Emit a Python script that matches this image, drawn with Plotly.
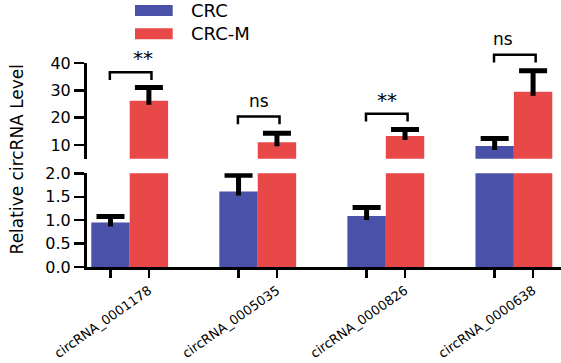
import plotly.graph_objects as go

# ---------------- data ----------------
categories = ["circRNA_0001178", "circRNA_0005035", "circRNA_0000826", "circRNA_0000638"]
series_names = ["CRC", "CRC-M"]
crc_values = [0.95, 1.61, 1.09, 9.6]
crc_errors = [0.13, 0.35, 0.18, 2.8]
crcm_values = [26.2, 11.0, 13.3, 29.5]
crcm_errors = [4.8, 3.3, 2.4, 7.7]
sig_labels = ["**", "ns", "**", "ns"]
bracket_levels = [36.6, 20.4, 21.4, 43.0]   # bracket height (upper-axis units)
lower_ticks = [0.0, 0.5, 1.0, 1.5, 2.0]
upper_ticks = [10, 20, 30, 40]

# ---------------- styling ----------------
BLUE = "#4A51A8"
RED = "#E84848"
FONT = "DejaVu Sans"
W, H = 561, 363
ML, MR, MT, MB = 87, 0, 63, 96
PLOT_H = H - MT - MB

XR = [-0.3334, 3.368]
LOW_RANGE = [0, 2]
UP_RANGE = [5, 40]
LOW_DOM = [0, 0.459]
UP_DOM = [0.531, 1]
OFF = 0.15  # half of bar slot (bargap 0.4 -> bar width 0.3)
STEM_PX = 4  # error stem reaching into the bar

xs = list(range(len(categories)))
units_per_px = {
    "y": (LOW_RANGE[1] - LOW_RANGE[0]) / ((LOW_DOM[1] - LOW_DOM[0]) * PLOT_H),
    "y2": (UP_RANGE[1] - UP_RANGE[0]) / ((UP_DOM[1] - UP_DOM[0]) * PLOT_H),
}

fig = go.Figure()
series = [(crc_values, crc_errors, BLUE, series_names[0], -OFF),
          (crcm_values, crcm_errors, RED, series_names[1], OFF)]
for yax in ["y", "y2"]:
    dip = STEM_PX * units_per_px[yax]
    for vals, errs, col, name, off in series:
        fig.add_trace(go.Bar(
            x=xs, y=vals, name=name, marker=dict(color=col, line=dict(width=0)),
            error_y=dict(type="data", array=errs, arrayminus=[dip] * len(vals), symmetric=False,
                         color="black", thickness=5, width=0),
            yaxis=yax, xaxis="x", showlegend=False))
    for vals, errs, col, name, off in series:
        fig.add_trace(go.Scatter(
            x=[x + off for x in xs], y=[v + e for v, e in zip(vals, errs)],
            mode="markers", marker=dict(symbol="line-ew", size=20, color="black",
                                        line=dict(color="black", width=5)),
            yaxis=yax, xaxis="x", showlegend=False, hoverinfo="skip"))

tickvals, ticktext = [], []
for i, c in enumerate(categories):
    tickvals += [i - OFF, i + OFF]
    ticktext += ["", c]

axis_common = dict(showline=True, linecolor="black", linewidth=3, ticks="outside",
                   tickcolor="black", showgrid=False, zeroline=False, mirror=False,
                   automargin=False,
                   tickfont=dict(family=FONT, size=16, color="black"))

fig.update_layout(
    width=W, height=H, margin=dict(l=ML, r=MR, t=MT, b=MB, autoexpand=False),
    paper_bgcolor="white", plot_bgcolor="white",
    barmode="group", bargap=0.4, bargroupgap=0,
    xaxis=dict(range=XR, anchor="y", showline=True, linecolor="black", linewidth=3,
               ticks="outside", ticklen=8, tickwidth=2.5, tickcolor="black",
               tickvals=tickvals, ticktext=ticktext, tickangle=-35, automargin=False,
               tickfont=dict(family=FONT, size=13, color="black"),
               showgrid=False, zeroline=False),
    yaxis=dict(domain=LOW_DOM, range=LOW_RANGE, anchor="x", tickvals=lower_ticks,
               tickformat=".1f", ticklen=10, tickwidth=2.5, **axis_common),
    yaxis2=dict(domain=UP_DOM, range=UP_RANGE, anchor="x", tickvals=upper_ticks,
                ticklen=10, tickwidth=2.5, **axis_common),
)

# helpers: data -> paper coordinates
def px_x(v):
    return (v - XR[0]) / (XR[1] - XR[0])

def py_up(v):
    return UP_DOM[0] + (v - UP_RANGE[0]) / (UP_RANGE[1] - UP_RANGE[0]) * (UP_DOM[1] - UP_DOM[0])

leg = 2.8  # leg length in upper-axis units
for i, (lab, lvl) in enumerate(zip(sig_labels, bracket_levels)):
    x0, x1 = px_x(i - OFF - 0.005), px_x(i + OFF + 0.02)
    ytop, ybot = py_up(lvl), py_up(lvl - leg)
    fig.add_shape(type="path", xref="paper", yref="paper",
                  path=f"M {x0},{ybot} L {x0},{ytop} L {x1},{ytop} L {x1},{ybot}",
                  line=dict(color="black", width=2.5))
    fig.add_annotation(xref="paper", yref="paper", x=(x0 + x1) / 2, y=ytop,
                       yshift=4 if lab == "ns" else 0,
                       text=lab, showarrow=False, yanchor="bottom",
                       font=dict(family=FONT, size=17 if lab == "ns" else 20, color="black"))

# manual legend
def ppx(p):
    return (p - ML) / (W - ML - MR)

def ppy(p):
    return (H - MB - p) / PLOT_H

legend_rows = [(series_names[0], BLUE, 5, 16), (series_names[1], RED, 28.3, 39.3)]
for name, col, ytop_px, ybot_px in legend_rows:
    fig.add_shape(type="rect", xref="paper", yref="paper",
                  x0=ppx(135), x1=ppx(172.7), y0=ppy(ybot_px), y1=ppy(ytop_px),
                  fillcolor=col, line=dict(width=0))
    fig.add_annotation(xref="paper", yref="paper", x=ppx(189), y=ppy((ytop_px + ybot_px) / 2),
                       text=name, showarrow=False, xanchor="left", yanchor="middle",
                       font=dict(family=FONT, size=18, color="black"))

# y-axis title spanning both panels
fig.add_annotation(xref="paper", yref="paper", x=ppx(17), y=ppy(159.4), text="Relative circRNA Level",
                   textangle=-90, showarrow=False, xanchor="center", yanchor="middle",
                   font=dict(family=FONT, size=17, color="black"))

fig.write_html("out.html", config={"displayModeBar": False, "staticPlot": True},
               post_script="document.body.style.margin='0';document.body.style.overflow='hidden';")
